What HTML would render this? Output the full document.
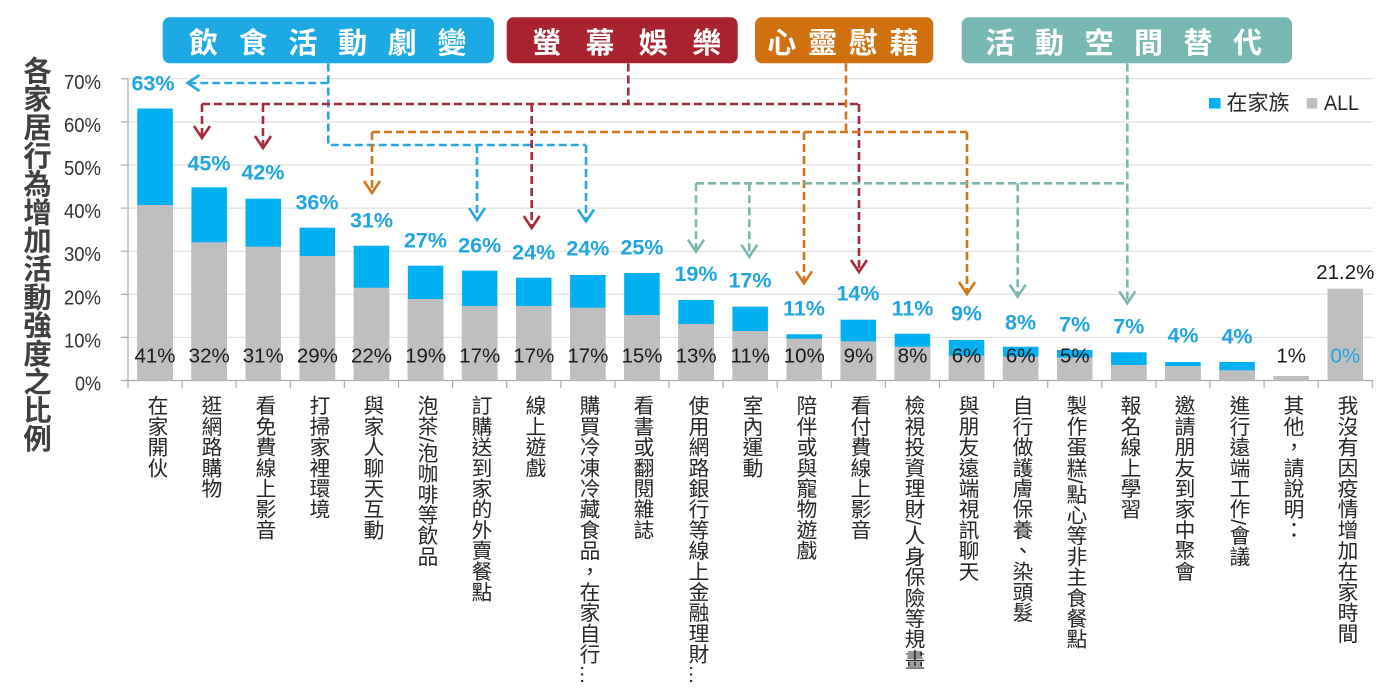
<!DOCTYPE html>
<html><head><meta charset="utf-8">
<style>
html,body{margin:0;padding:0;background:#fff;}
#wrap{position:relative;width:1400px;height:694px;overflow:hidden;background:#fff;}
svg{position:absolute;left:0;top:0;}
.xl{position:absolute;top:395px;width:22px;line-height:22px;font-size:20.7px;writing-mode:vertical-rl;text-orientation:mixed;font-family:"Liberation Sans","Noto Sans CJK TC",sans-serif;color:#262626;white-space:nowrap;}
.yt{position:absolute;left:22px;top:56px;width:31px;line-height:31px;font-size:28.3px;font-weight:bold;writing-mode:vertical-rl;font-family:"Noto Sans CJK TC","Liberation Sans",sans-serif;color:#404040;white-space:nowrap;}
</style></head>
<body><div id="wrap">
<svg width="1400" height="694" viewBox="0 0 1400 694" xmlns="http://www.w3.org/2000/svg" font-family="'Liberation Sans','Noto Sans CJK TC',sans-serif">
<!-- gridlines -->
<g stroke="#D9D9D9" stroke-width="1">
<line x1="128" y1="78.8" x2="1373" y2="78.8"/>
<line x1="128" y1="121.9" x2="1373" y2="121.9"/>
<line x1="128" y1="165" x2="1373" y2="165"/>
<line x1="128" y1="208.1" x2="1373" y2="208.1"/>
<line x1="128" y1="251.2" x2="1373" y2="251.2"/>
<line x1="128" y1="294.3" x2="1373" y2="294.3"/>
<line x1="128" y1="337.4" x2="1373" y2="337.4"/>
</g>
<!-- axes -->
<g stroke="#ABABAB" stroke-width="1.2">
<line x1="128" y1="78.8" x2="128" y2="380.5"/>
<line x1="121" y1="78.8" x2="128" y2="78.8"/>
<line x1="121" y1="121.9" x2="128" y2="121.9"/>
<line x1="121" y1="165" x2="128" y2="165"/>
<line x1="121" y1="208.1" x2="128" y2="208.1"/>
<line x1="121" y1="251.2" x2="128" y2="251.2"/>
<line x1="121" y1="294.3" x2="128" y2="294.3"/>
<line x1="121" y1="337.4" x2="128" y2="337.4"/>
<line x1="121" y1="380.5" x2="1373" y2="380.5"/>
<line x1="128" y1="380.5" x2="128" y2="388"/><line x1="182.1" y1="380.5" x2="182.1" y2="388"/><line x1="236.2" y1="380.5" x2="236.2" y2="388"/><line x1="290.3" y1="380.5" x2="290.3" y2="388"/><line x1="344.4" y1="380.5" x2="344.4" y2="388"/><line x1="398.5" y1="380.5" x2="398.5" y2="388"/><line x1="452.6" y1="380.5" x2="452.6" y2="388"/><line x1="506.7" y1="380.5" x2="506.7" y2="388"/><line x1="560.8" y1="380.5" x2="560.8" y2="388"/><line x1="614.9" y1="380.5" x2="614.9" y2="388"/><line x1="669" y1="380.5" x2="669" y2="388"/><line x1="723.1" y1="380.5" x2="723.1" y2="388"/><line x1="777.2" y1="380.5" x2="777.2" y2="388"/><line x1="831.3" y1="380.5" x2="831.3" y2="388"/><line x1="885.4" y1="380.5" x2="885.4" y2="388"/><line x1="939.5" y1="380.5" x2="939.5" y2="388"/><line x1="993.6" y1="380.5" x2="993.6" y2="388"/><line x1="1047.7" y1="380.5" x2="1047.7" y2="388"/><line x1="1101.8" y1="380.5" x2="1101.8" y2="388"/><line x1="1155.9" y1="380.5" x2="1155.9" y2="388"/><line x1="1210" y1="380.5" x2="1210" y2="388"/><line x1="1264.1" y1="380.5" x2="1264.1" y2="388"/><line x1="1318.2" y1="380.5" x2="1318.2" y2="388"/><line x1="1372.3" y1="380.5" x2="1372.3" y2="388"/>
</g>
<!-- y tick labels -->
<g font-size="20" fill="#333" text-anchor="end">
<text x="101" y="88.8" textLength="37" lengthAdjust="spacingAndGlyphs">70%</text>
<text x="101" y="131.9" textLength="37" lengthAdjust="spacingAndGlyphs">60%</text>
<text x="101" y="175" textLength="37" lengthAdjust="spacingAndGlyphs">50%</text>
<text x="101" y="218.1" textLength="37" lengthAdjust="spacingAndGlyphs">40%</text>
<text x="101" y="261.2" textLength="37" lengthAdjust="spacingAndGlyphs">30%</text>
<text x="101" y="304.3" textLength="37" lengthAdjust="spacingAndGlyphs">20%</text>
<text x="101" y="347.4" textLength="37" lengthAdjust="spacingAndGlyphs">10%</text>
<text x="101" y="390.5" textLength="26" lengthAdjust="spacingAndGlyphs">0%</text>
</g>
<!-- blue bars (在家族) -->
<g fill="#00B0F0">
<rect x="137.3" y="108.5" width="35.5" height="272"/>
<rect x="191.4" y="187.3" width="35.5" height="193.2"/>
<rect x="245.5" y="198.7" width="35.5" height="181.8"/>
<rect x="299.6" y="227.7" width="35.5" height="152.8"/>
<rect x="353.7" y="245.7" width="35.5" height="134.8"/>
<rect x="407.8" y="265.7" width="35.5" height="114.8"/>
<rect x="461.9" y="270.7" width="35.5" height="109.8"/>
<rect x="516" y="277.7" width="35.5" height="102.8"/>
<rect x="570.1" y="275" width="35.5" height="105.5"/>
<rect x="624.2" y="273" width="35.5" height="107.5"/>
<rect x="678.3" y="300" width="35.5" height="80.5"/>
<rect x="732.4" y="306.7" width="35.5" height="73.8"/>
<rect x="786.5" y="334.3" width="35.5" height="46.2"/>
<rect x="840.6" y="319.7" width="35.5" height="60.8"/>
<rect x="894.7" y="333.7" width="35.5" height="46.8"/>
<rect x="948.8" y="340" width="35.5" height="40.5"/>
<rect x="1002.9" y="346.7" width="35.5" height="33.8"/>
<rect x="1057" y="350" width="35.5" height="30.5"/>
<rect x="1111.1" y="352.3" width="35.5" height="28.2"/>
<rect x="1165.2" y="362" width="35.5" height="18.5"/>
<rect x="1219.3" y="362" width="35.5" height="18.5"/>
</g>
<!-- gray bars (ALL) -->
<g fill="#BFBFBF">
<rect x="137.3" y="205" width="35.5" height="175.5"/>
<rect x="191.4" y="242.3" width="35.5" height="138.2"/>
<rect x="245.5" y="246.7" width="35.5" height="133.8"/>
<rect x="299.6" y="256" width="35.5" height="124.5"/>
<rect x="353.7" y="287.7" width="35.5" height="92.8"/>
<rect x="407.8" y="299" width="35.5" height="81.5"/>
<rect x="461.9" y="306" width="35.5" height="74.5"/>
<rect x="516" y="306" width="35.5" height="74.5"/>
<rect x="570.1" y="307.7" width="35.5" height="72.8"/>
<rect x="624.2" y="315" width="35.5" height="65.5"/>
<rect x="678.3" y="324" width="35.5" height="56.5"/>
<rect x="732.4" y="331" width="35.5" height="49.5"/>
<rect x="786.5" y="338.7" width="35.5" height="41.8"/>
<rect x="840.6" y="341.3" width="35.5" height="39.2"/>
<rect x="894.7" y="346.7" width="35.5" height="33.8"/>
<rect x="948.8" y="355.7" width="35.5" height="24.8"/>
<rect x="1002.9" y="356.7" width="35.5" height="23.8"/>
<rect x="1057" y="357.5" width="35.5" height="23"/>
<rect x="1111.1" y="365" width="35.5" height="15.5"/>
<rect x="1165.2" y="366" width="35.5" height="14.5"/>
<rect x="1219.3" y="370.3" width="35.5" height="10.2"/>
<rect x="1273.4" y="376" width="35.5" height="4.5"/>
<rect x="1327.5" y="288.7" width="35.5" height="91.8"/>
</g>
<!-- bottom (ALL) labels -->
<g font-size="20.5" fill="#1a1a1a" text-anchor="middle">
<text x="155" y="362.3">41%</text>
<text x="209.2" y="362.3">32%</text>
<text x="263.3" y="362.3">31%</text>
<text x="317.4" y="362.3">29%</text>
<text x="371.5" y="362.3">22%</text>
<text x="425.6" y="362.3">19%</text>
<text x="479.7" y="362.3">17%</text>
<text x="533.8" y="362.3">17%</text>
<text x="587.9" y="362.3">17%</text>
<text x="642" y="362.3">15%</text>
<text x="696.1" y="362.3">13%</text>
<text x="750.2" y="362.3">11%</text>
<text x="804.3" y="362.3">10%</text>
<text x="858.4" y="362.3">9%</text>
<text x="912.5" y="362.3">8%</text>
<text x="966.6" y="362.3">6%</text>
<text x="1020.7" y="362.3">6%</text>
<text x="1074.8" y="362.3">5%</text>
<text x="1291.2" y="362.3">1%</text>
<text x="1345.3" y="279">21.2%</text>
<text x="1345.3" y="362.3" fill="#1FA5E0">0%</text>
</g>
<!-- top (在家族) labels -->
<g font-size="21.5" font-weight="bold" fill="#1FA5E0" text-anchor="middle">
<text x="153" y="90.7">63%</text>
<text x="209" y="170.7">45%</text>
<text x="263" y="179.7">42%</text>
<text x="317" y="209.4">36%</text>
<text x="371.5" y="227.7">31%</text>
<text x="425.5" y="247.7">27%</text>
<text x="479.7" y="252.7">26%</text>
<text x="533.7" y="259.4">24%</text>
<text x="587.9" y="255.4">24%</text>
<text x="642" y="254.4">25%</text>
<text x="696" y="281">19%</text>
<text x="750" y="287.7">17%</text>
<text x="804" y="315.7">11%</text>
<text x="858" y="300.7">14%</text>
<text x="912.5" y="315.4">11%</text>
<text x="966.5" y="320.7">9%</text>
<text x="1020.6" y="329.4">8%</text>
<text x="1074.7" y="331.7">7%</text>
<text x="1128.8" y="333.4">7%</text>
<text x="1183" y="342.7">4%</text>
<text x="1237" y="343.4">4%</text>
</g>
<!-- connector lines -->
<g fill="none" stroke-width="2.6">
<g stroke="#2AA7E0">
<path d="M328.3 63.5 V145 H586" stroke-dasharray="8 4"/>
<path d="M328.3 83 H189" stroke-dasharray="8 4"/>
<path d="M477 145 V219" stroke-dasharray="8 4"/>
<path d="M586 145 V220" stroke-dasharray="8 4"/>
<polyline points="199.5,75 187.5,83 199.5,91"/>
<polyline points="469,208 477,220 485,208"/>
<polyline points="578,209.5 586,221.5 594,209.5"/>
</g>
<g stroke="#A62B3A">
<path d="M628.3 63.5 V104" stroke-dasharray="8 4"/>
<path d="M202 104 H859" stroke-dasharray="8 4"/>
<path d="M202 104 V137" stroke-dasharray="8 4"/>
<path d="M263 104 V147" stroke-dasharray="8 4"/>
<path d="M531.7 104 V227" stroke-dasharray="8 4"/>
<path d="M859 104 V271" stroke-dasharray="8 4"/>
<polyline points="194,126 202,138 210,126"/>
<polyline points="255,136 263,148 271,136"/>
<polyline points="523.7,216 531.7,228 539.7,216"/>
<polyline points="851,260 859,272 867,260"/>
</g>
<g stroke="#D2751C">
<path d="M846 63.5 V132" stroke-dasharray="8 4"/>
<path d="M372 132 H967" stroke-dasharray="8 4"/>
<path d="M372 132 V192" stroke-dasharray="8 4"/>
<path d="M804 132 V282" stroke-dasharray="8 4"/>
<path d="M967 132 V293" stroke-dasharray="8 4"/>
<polyline points="364,181 372,193 380,181"/>
<polyline points="796,271.3 804,283.3 812,271.3"/>
<polyline points="959,282 967,294 975,282"/>
</g>
<g stroke="#7DB7B0">
<path d="M1127.3 63.5 V302" stroke-dasharray="8 4"/>
<path d="M696 183.3 H1127.3" stroke-dasharray="8 4"/>
<path d="M696 183.3 V250.5" stroke-dasharray="8 4"/>
<path d="M749.3 183.3 V255.5" stroke-dasharray="8 4"/>
<path d="M1017.7 183.3 V295.5" stroke-dasharray="8 4"/>
<polyline points="688,239.7 696,251.7 704,239.7"/>
<polyline points="741.3,244.7 749.3,256.7 757.3,244.7"/>
<polyline points="1009.7,284.7 1017.7,296.7 1025.7,284.7"/>
<polyline points="1119.3,291.3 1127.3,303.3 1135.3,291.3"/>
</g>
</g>
<!-- header boxes -->
<rect x="162.7" y="17.3" width="331.3" height="46" rx="7" fill="#1DA9E3"/>
<rect x="506.7" y="17.3" width="231" height="46" rx="7" fill="#A8232F"/>
<rect x="755" y="17.3" width="178.3" height="46" rx="7" fill="#D0700F"/>
<rect x="961.7" y="17.3" width="330.3" height="46" rx="7" fill="#78B8B2"/>
<g font-family="'Noto Sans CJK TC','Liberation Sans',sans-serif" font-size="29" font-weight="bold" fill="#fff" text-anchor="middle">
<text x="203.5 253.2 302.9 352.6 402.3 452" y="53.2">飲食活動劇變</text>
<text x="546.7 600 653.3 706.7" y="53.2">螢幕娛樂</text>
<text x="781.7 822.5 863.3 904" y="53.2">心靈慰藉</text>
<text x="1000 1049.5 1099 1148.5 1198 1247.5" y="53.2">活動空間替代</text>
</g>
<!-- legend -->
<rect x="1209" y="98" width="11.5" height="10.5" fill="#00B0F0"/>
<text x="1226.5" y="110" font-family="'Noto Sans CJK TC','Liberation Sans',sans-serif" font-size="21" fill="#262626">在家族</text>
<rect x="1306.7" y="98" width="10.6" height="10.5" fill="#BFBFBF"/>
<text x="1324" y="110" font-size="21" fill="#262626" textLength="35" lengthAdjust="spacingAndGlyphs">ALL</text>
</svg>
<div class="yt">各家居行為增加活動強度之比例</div>
<div class="xl" style="left:144px">在家開伙</div>
<div class="xl" style="left:198px">逛網路購物</div>
<div class="xl" style="left:252px">看免費線上影音</div>
<div class="xl" style="left:306px">打掃家裡環境</div>
<div class="xl" style="left:360px">與家人聊天互動</div>
<div class="xl" style="left:414px">泡茶/泡咖啡等飲品</div>
<div class="xl" style="left:468px">訂購送到家的外賣餐點</div>
<div class="xl" style="left:522px">線上遊戲</div>
<div class="xl" style="left:576px">購買冷凍冷藏食品，在家自行…</div>
<div class="xl" style="left:630px">看書或翻閱雜誌</div>
<div class="xl" style="left:685px">使用網路銀行等線上金融理財…</div>
<div class="xl" style="left:739px">室內運動</div>
<div class="xl" style="left:793px">陪伴或與寵物遊戲</div>
<div class="xl" style="left:847px">看付費線上影音</div>
<div class="xl" style="left:901px">檢視投資理財/人身保險等規畫</div>
<div class="xl" style="left:955px">與朋友遠端視訊聊天</div>
<div class="xl" style="left:1009px">自行做護膚保養、染頭髮</div>
<div class="xl" style="left:1063px">製作蛋糕/點心等非主食餐點</div>
<div class="xl" style="left:1117px">報名線上學習</div>
<div class="xl" style="left:1171px">邀請朋友到家中聚會</div>
<div class="xl" style="left:1226px">進行遠端工作/會議</div>
<div class="xl" style="left:1280px">其他，請說明：</div>
<div class="xl" style="left:1334px">我沒有因疫情增加在家時間</div>
</div></body></html>
